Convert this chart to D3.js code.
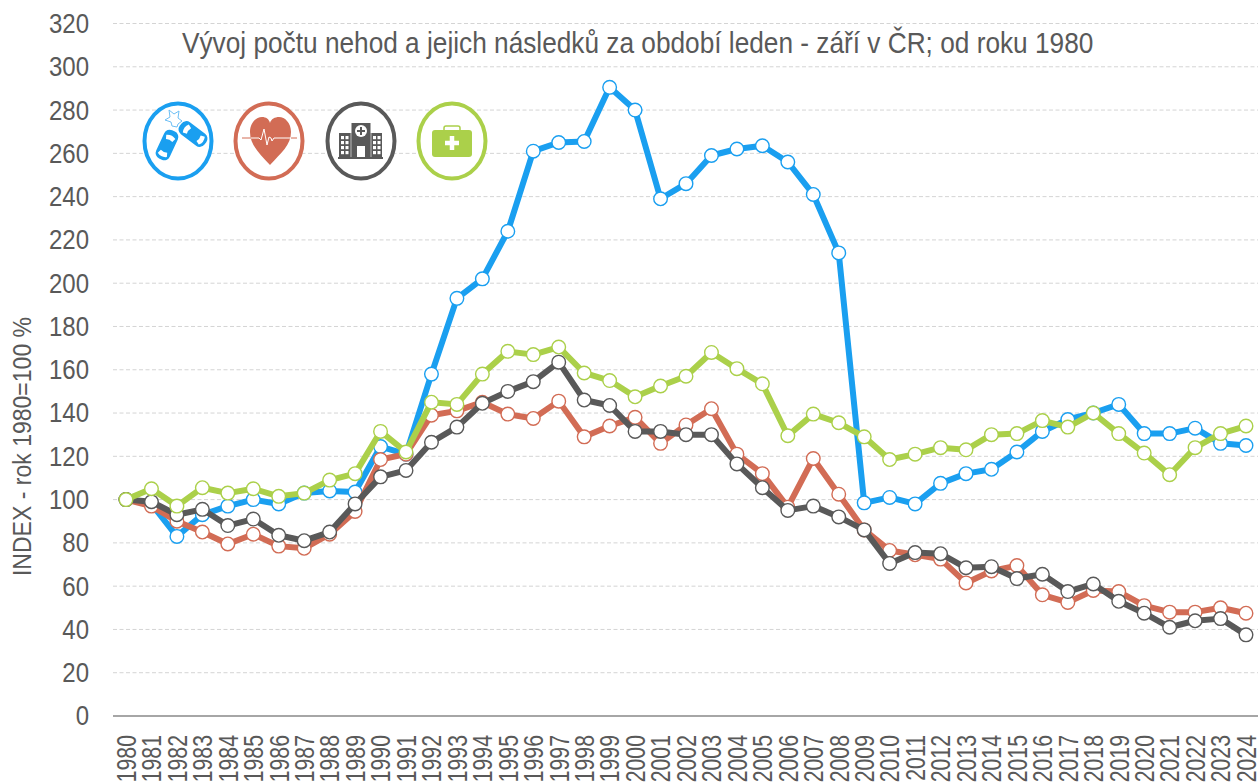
<!DOCTYPE html>
<html>
<head>
<meta charset="utf-8">
<script src="https://cdn.jsdelivr.net/npm/d3@7"></script>
<style>
html, body { margin: 0; padding: 0; background: #fff; overflow: hidden; }
text { font-family: "Liberation Sans", sans-serif; fill: #595959; }
</style>
</head>
<body>
<svg id="chart" width="1258" height="783"></svg>
<script>
var years = d3.range(1980, 2025);
var yTicks = d3.range(0, 321, 20);

var nehody = [100, 98, 83, 93, 97, 100, 98, 103, 104, 103.5, 124.5, 121, 158, 193, 202, 224, 261, 265, 265.5, 290.5, 280, 239, 246, 259, 262, 263.5, 256, 241, 214, 98.5, 101, 98, 107.5, 112, 114, 122, 131.5, 137, 140, 144, 130.5, 130.5, 133, 126, 125];
var usmrceni = [100, 97, 90, 85, 79.5, 84, 78.5, 77.5, 84, 94.5, 118.5, 121, 139, 141, 145, 139.5, 137.5, 145.5, 129, 134, 138, 126, 134.5, 142, 121, 112, 96.5, 119, 102.5, 86, 76.5, 74.5, 72.5, 61.5, 67, 69.5, 56, 52.5, 58, 57.5, 51, 48, 48, 50, 47.5];
var tezce = [100, 99, 93, 95.5, 88, 91, 83.5, 81, 85, 98, 110.5, 113.5, 126.5, 133.5, 144.5, 150, 154.5, 163.5, 146, 143.5, 131.5, 131.5, 130, 130, 116.5, 105.5, 95, 97, 92, 86, 70.5, 75.5, 75, 68.5, 69, 63.5, 65.5, 57.5, 61, 53, 47.5, 41, 44, 45, 37.5];
var lehce = [100, 105, 97, 105.5, 103, 105, 101.5, 103, 109, 112, 131.5, 122, 145, 144, 158, 168.5, 167, 170.5, 158.5, 155, 147.5, 152.5, 157, 168, 160.5, 153.5, 129.5, 139.5, 135.5, 129, 118.5, 121, 124, 123, 130, 130.5, 136.5, 133.5, 140, 130.5, 121.5, 111.5, 124, 130.5, 134];

var seriesValues = [nehody, usmrceni, tezce, lehce];
var seriesColors = ["#1a9ff0", "#d26c55", "#595959", "#abd04a"];

var svg = d3.select("#chart");

var x = d3.scalePoint().domain(years).range([126, 1246]);
var y = d3.scaleLinear().domain([0, 320]).range([716, 23.5]);

// gridlines
svg.append("g").selectAll("line")
    .data(yTicks.slice(1))
    .enter().append("line")
    .attr("x1", 113).attr("x2", 1258)
    .attr("y1", function(d) { return y(d); })
    .attr("y2", function(d) { return y(d); })
    .attr("stroke", "#d4d4d4")
    .attr("stroke-width", 1)
    .attr("stroke-dasharray", "4 2.5");

// baseline
svg.append("line")
    .attr("x1", 113).attr("x2", 1258)
    .attr("y1", y(0)).attr("y2", y(0))
    .attr("stroke", "#a6a6a6")
    .attr("stroke-width", 2);

// no narrow font installed, so the labels are squeezed by hand
svg.append("g").selectAll("text")
    .data(yTicks)
    .enter().append("text")
    .attr("transform", function(d) { return "translate(89," + y(d) + ") scale(0.89,1)"; })
    .attr("dy", "0.35em")
    .style("text-anchor", "end")
    .style("font-size", "27px")
    .text(function(d) { return d; });

// x labels
svg.append("g").selectAll("text")
    .data(years)
    .enter().append("text")
    .attr("transform", function(d) { return "translate(" + x(d) + ",735) rotate(-90) scale(0.76,1)"; })
    .attr("dy", "0.35em")
    .style("text-anchor", "end")
    .style("font-size", "28px")
    .text(function(d) { return d; });

svg.append("text")
    .attr("transform", "translate(31,446.5) rotate(-90) scale(0.886,1)")
    .style("text-anchor", "middle")
    .style("font-size", "26px")
    .text("INDEX - rok 1980=100 %");

svg.append("text")
    .attr("transform", "translate(182,53) scale(0.905,1)")
    .style("font-size", "29px")
    .text("Vývoj počtu nehod a jejich následků za období leden - září v ČR; od roku 1980");

// lines and points
var line = d3.line()
    .x(function(d, i) { return x(years[i]); })
    .y(function(d) { return y(d); });

seriesValues.forEach(function(values, s) {
    svg.append("path")
        .attr("d", line(values))
        .attr("fill", "none")
        .attr("stroke", seriesColors[s])
        .attr("stroke-width", 6)
        .attr("stroke-linejoin", "round");
    svg.append("g").selectAll("circle")
        .data(values)
        .enter().append("circle")
        .attr("cx", function(d, i) { return x(years[i]); })
        .attr("cy", function(d) { return y(d); })
        .attr("r", 6.8)
        .attr("fill", "#fff")
        .attr("stroke", seriesColors[s])
        .attr("stroke-width", 1.4);
});

// icons
function badge(cx, color) {
    var g = svg.append("g").attr("transform", "translate(" + cx + ",141)");
    g.append("ellipse")
        .attr("rx", 33.5).attr("ry", 37.5)
        .attr("fill", "#fff")
        .attr("stroke", color)
        .attr("stroke-width", 4);
    return g;
}

function car(g, cx, cy, angle) {
    var c = g.append("g").attr("transform", "translate(" + cx + "," + cy + ") rotate(" + angle + ")");
    c.append("rect").attr("x", -7.5).attr("y", -15.5).attr("width", 15).attr("height", 31).attr("rx", 6).attr("fill", "#1a9ff0");
    c.append("path").attr("d", "M-5,-9 Q0,-12 5,-9 L3.5,-5 Q0,-6.5 -3.5,-5 Z").attr("fill", "#fff");
    c.append("path").attr("d", "M-5,11 Q0,14 5,11 L3.5,7 Q0,8.5 -3.5,7 Z").attr("fill", "#fff");
}

var carIcon = badge(178, seriesColors[0]);
car(carIcon, -11, 4, 25);
car(carIcon, 15, -7, -53);
carIcon.append("path")
    .attr("d", "M-6,-15 L-7,-19 L-13,-21 L-8,-24 L-9,-31 L-4,-27 L1,-30 L0,-23 L4,-20 L0,-17 L-1,-14 Z")
    .attr("fill", "#fff")
    .attr("stroke", "#6dbff5")
    .attr("stroke-width", 1);

var heartIcon = badge(269, seriesColors[1]);
heartIcon.append("path")
    .attr("d", "M1,24 C-10,12 -19,4 -19,-9 C-19,-18 -13,-24 -7,-24 C-3,-24 0,-22 1,-18 C2,-22 6,-24 10,-24 C16,-24 22,-18 22,-9 C22,4 12,12 1,24 Z")
    .attr("fill", seriesColors[1]);
heartIcon.append("path")
    .attr("d", "M-27,-3 L-10,-3 L-8,-1 L-5,-12 L-2,4 L0,-4 L2,-3 L3,0 L5,-3 L28,-3")
    .attr("fill", "none")
    .attr("stroke", "#fff")
    .attr("stroke-width", 1);
heartIcon.append("path")
    .attr("d", "M-27,-3 L-18,-3 M22,-3 L28,-3")
    .attr("stroke", seriesColors[1])
    .attr("stroke-width", 1);

var hospIcon = badge(361, seriesColors[2]);
hospIcon.append("rect").attr("x", -22).attr("y", -8).attr("width", 43).attr("height", 25).attr("fill", seriesColors[2]);
hospIcon.append("rect").attr("x", -9.5).attr("y", -18).attr("width", 19).attr("height", 35).attr("fill", seriesColors[2]);
hospIcon.append("path").attr("d", "M-10,-8 V17 M10,-8 V17").attr("stroke", "#fff").attr("stroke-width", 0.6);
hospIcon.append("rect").attr("x", -23).attr("y", 16).attr("width", 45).attr("height", 2).attr("fill", seriesColors[2]);
hospIcon.append("circle").attr("cy", -10).attr("r", 6).attr("fill", "#fff");
hospIcon.append("path").attr("d", "M0,-14 V-6 M-4,-10 H4").attr("stroke", seriesColors[2]).attr("stroke-width", 2);
hospIcon.append("rect").attr("x", -4).attr("y", 5).attr("width", 8).attr("height", 11).attr("fill", "#fff");
[-20, -15.5, 12, 16.5].forEach(function(wx) {
    [-5, 0, 5, 10].forEach(function(wy) {
        hospIcon.append("rect").attr("x", wx).attr("y", wy).attr("width", 3).attr("height", 3.2).attr("fill", "#fff");
    });
});

var bagIcon = badge(452, seriesColors[3]);
bagIcon.append("path")
    .attr("d", "M-8,-10 V-13 Q-8,-15 -6,-15 H6 Q8,-15 8,-13 V-10")
    .attr("fill", "none")
    .attr("stroke", seriesColors[3])
    .attr("stroke-width", 1.5);
bagIcon.append("rect").attr("x", -20).attr("y", -11).attr("width", 40).attr("height", 27).attr("rx", 3).attr("fill", seriesColors[3]);
bagIcon.append("path").attr("d", "M0,-5 V9 M-7,2 H7").attr("stroke", "#fff").attr("stroke-width", 4.5);
</script>
</body>
</html>
